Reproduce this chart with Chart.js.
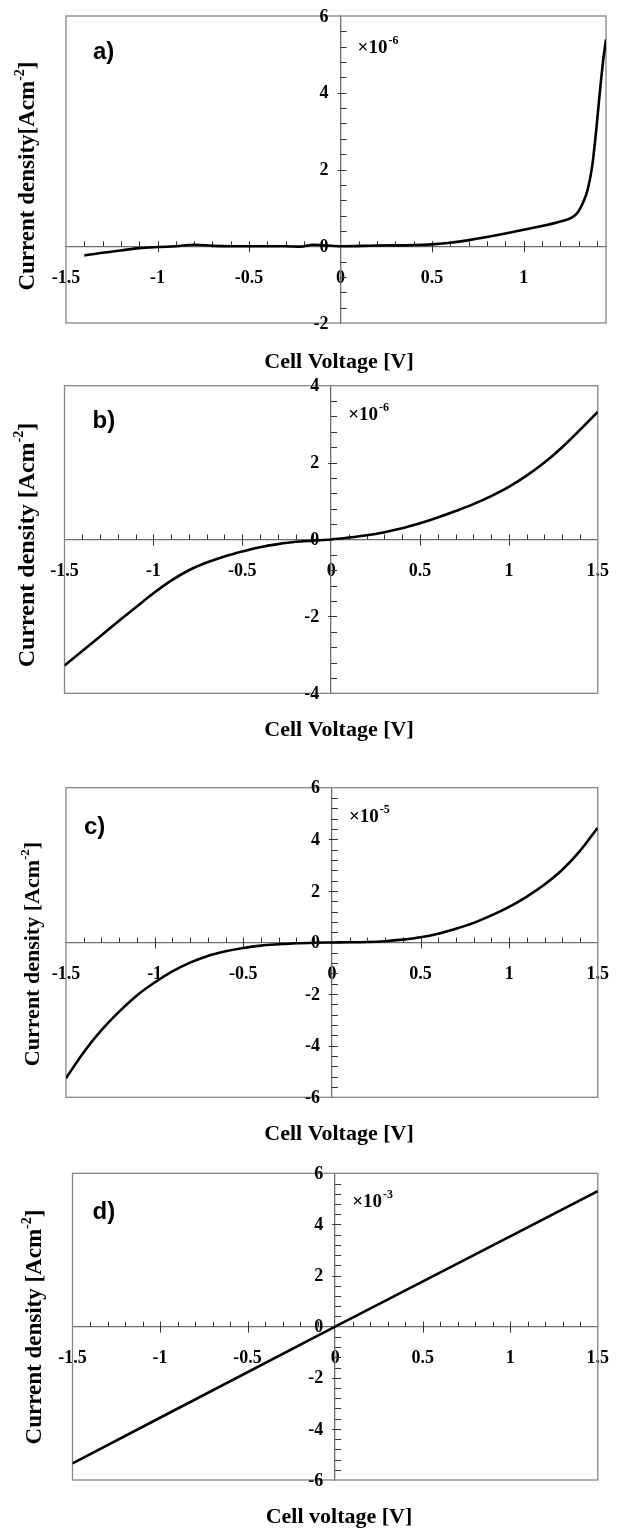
<!DOCTYPE html>
<html lang="en">
<head>
<meta charset="UTF-8">
<title>Current density vs cell voltage</title>
<script src="https://cdn.jsdelivr.net/npm/chart.js"></script>
<style>
  body { margin: 0; background: #fff; }
  .panel { position: absolute; left: 0; width: 630px; }
</style>
</head>
<body>
<div class="panel" style="top:0px"><canvas id="chartA" width="630" height="375"></canvas></div>
<div class="panel" style="top:375px"><canvas id="chartB" width="630" height="385"></canvas></div>
<div class="panel" style="top:760px"><canvas id="chartC" width="630" height="390"></canvas></div>
<div class="panel" style="top:1150px"><canvas id="chartD" width="630" height="379"></canvas></div>
<script>
// a) current density in units of 1e-6 A/cm2
const voltA = [-1.40, -1.30, -1.20, -1.10, -1.00, -0.90, -0.80, -0.70, -0.60, -0.45, -0.30, -0.22, -0.15, 0.00, 0.20, 0.40, 0.50, 0.60, 0.70, 0.80, 0.90, 1.00, 1.10, 1.19, 1.29, 1.33, 1.35, 1.375, 1.395, 1.415, 1.435, 1.45];
const currA = [-0.24, -0.17, -0.11, -0.05, -0.02, 0.00, 0.04, 0.01, 0.00, 0.00, 0.00, -0.01, 0.04, 0.00, 0.02, 0.03, 0.05, 0.09, 0.16, 0.24, 0.33, 0.43, 0.53, 0.63, 0.85, 1.20, 1.48, 2.10, 2.95, 3.95, 4.86, 5.39];

// b) units of 1e-6 A/cm2
const voltB = [-1.5, -1.4, -1.3, -1.2, -1.1, -1.0, -0.9, -0.8, -0.7, -0.6, -0.5, -0.4, -0.3, -0.2, -0.1, 0.0, 0.1, 0.2, 0.3, 0.4, 0.5, 0.6, 0.7, 0.8, 0.9, 1.0, 1.1, 1.2, 1.3, 1.4, 1.5];
const currB = [-3.28, -2.90, -2.52, -2.14, -1.77, -1.40, -1.07, -0.80, -0.60, -0.44, -0.31, -0.20, -0.12, -0.06, -0.03, 0.00, 0.05, 0.11, 0.19, 0.29, 0.42, 0.57, 0.74, 0.92, 1.13, 1.37, 1.66, 2.00, 2.40, 2.85, 3.32];

// c) units of 1e-5 A/cm2
const voltC = [-1.5, -1.4, -1.3, -1.2, -1.1, -1.0, -0.9, -0.8, -0.7, -0.6, -0.5, -0.4, -0.3, -0.2, -0.1, 0.0, 0.1, 0.2, 0.3, 0.4, 0.5, 0.6, 0.7, 0.8, 0.9, 1.0, 1.1, 1.2, 1.3, 1.4, 1.5];
const currC = [-5.26, -4.25, -3.40, -2.68, -2.05, -1.55, -1.12, -0.78, -0.52, -0.34, -0.21, -0.12, -0.07, -0.03, -0.01, 0.00, 0.01, 0.02, 0.05, 0.11, 0.20, 0.34, 0.53, 0.76, 1.05, 1.38, 1.78, 2.25, 2.82, 3.55, 4.45];

// d) units of 1e-3 A/cm2, ohmic
const voltD = [-1.5, 0.0, 1.5];
const currD = [-5.35, 0.00, 5.30];

// axis ranges
const xRangeA = [-1.5, 1.45];
const yRangeA = [-2, 6];
const yRangeB = [-4, 4];
const yRangeC = [-6, 6];
const yRangeD = [-6, 6];
const xRangeFull = [-1.5, 1.5];

const serif = '"Liberation Serif", "Times New Roman", serif';
const sans = '"Liberation Sans", Arial, sans-serif';

// frame, minor ticks, y tick labels and the panel texts
const decor = {
  id: 'decor',
  beforeDatasetsDraw(chart, args, o) {
    const {ctx, chartArea: ca, scales: {x, y}} = chart;
    const x0 = x.getPixelForValue(0);
    const y0 = y.getPixelForValue(0);
    ctx.save();
    ctx.strokeStyle = '#858585';
    ctx.lineWidth = 1.3;
    ctx.strokeRect(ca.left, ca.top, ca.right - ca.left, ca.bottom - ca.top);

    ctx.strokeStyle = '#333';
    ctx.lineWidth = 1;
    ctx.beginPath();
    for (let i = -15; i <= 15; i++) {
      const v = i / 10;
      if (i === 0 || v <= x.min || v >= x.max) continue;
      const px = Math.round(x.getPixelForValue(v)) + 0.5;
      const major = i % 5 === 0;
      ctx.moveTo(px, y0 - 5);
      ctx.lineTo(px, major ? y0 + 6 : y0);
    }
    for (let j = Math.ceil(y.min / 0.4); j <= Math.floor(y.max / 0.4); j++) {
      const v = j * 0.4;
      if (j === 0 || v <= y.min || v >= y.max) continue;
      const py = Math.round(y.getPixelForValue(v)) + 0.5;
      const major = j % 5 === 0;
      ctx.moveTo(major ? x0 - 3 : x0, py);
      ctx.lineTo(x0 + 6, py);
    }
    ctx.stroke();

    // y tick labels sit left of the centred axis
    ctx.fillStyle = '#000';
    ctx.font = 'bold 18px ' + serif;
    ctx.textAlign = 'right';
    ctx.textBaseline = 'middle';
    y.ticks.forEach(t => ctx.fillText(String(t.value), x0 - 12, y.getPixelForValue(t.value) + 1));

    // panel letter
    ctx.font = 'bold 24px ' + sans;
    ctx.textBaseline = 'alphabetic';
    ctx.textAlign = 'left';
    ctx.fillText(o.letter, ca.left + o.letterDx, ca.top + o.letterDy);

    // scale factor
    ctx.font = 'bold 19px ' + serif;
    const bx = x0 + 17, by = ca.top + o.expDy;
    ctx.fillText('×10', bx, by);
    const w = ctx.measureText('×10').width;
    ctx.font = 'bold 12px ' + serif;
    ctx.fillText(o.exponent, bx + w + 1, by - 9);

    // x title
    ctx.font = 'bold 22px ' + serif;
    ctx.textAlign = 'center';
    ctx.textBaseline = 'middle';
    ctx.fillText(o.xTitle, 339, o.xTitleY);

    // y title with superscript
    ctx.translate(o.yTitleX, o.yTitleY);
    ctx.rotate(-Math.PI / 2);
    ctx.textAlign = 'left';
    const mainFont = 'bold ' + o.yTitleSize + 'px ' + serif;
    const supFont = 'bold ' + Math.round(o.yTitleSize * 0.6) + 'px ' + serif;
    ctx.font = mainFont;
    const w1 = ctx.measureText(o.yTitle).width;
    const w3 = ctx.measureText(']').width;
    ctx.font = supFont;
    const w2 = ctx.measureText('-2').width;
    const tx = -(w1 + w2 + w3) / 2;
    ctx.font = mainFont;
    ctx.fillText(o.yTitle, tx, 0);
    ctx.font = supFont;
    ctx.fillText('-2', tx + w1, -o.yTitleSize * 0.35);
    ctx.font = mainFont;
    ctx.fillText(']', tx + w1 + w2, 0);
    ctx.restore();
  }
};

function makePanel(id, volts, curr, xRange, yRange, pad, deco) {
  const points = volts.map((v, i) => ({x: v, y: curr[i]}));
  return new Chart(document.getElementById(id), {
    type: 'scatter',
    data: {
      datasets: [{
        data: points,
        showLine: true,
        borderColor: '#000',
        borderWidth: 2.6,
        pointRadius: 0,
        cubicInterpolationMode: 'monotone'
      }]
    },
    options: {
      responsive: false,
      animation: false,
      events: [],
      layout: {padding: pad},
      plugins: {legend: {display: false}, tooltip: {enabled: false}, decor: deco},
      scales: {
        x: {
          type: 'linear',
          min: xRange[0], max: xRange[1],
          position: {y: 0},
          grid: {display: false, drawTicks: false},
          border: {display: true, color: '#6e6e6e', width: 1.3},
          ticks: {stepSize: 0.5, includeBounds: false, color: '#000', padding: 21, maxRotation: 0,
            font: {family: serif, weight: 'bold', size: 18},
            callback: v => String(Math.round(v * 10) / 10)}
        },
        y: {
          type: 'linear',
          min: yRange[0], max: yRange[1],
          position: {x: 0},
          grid: {display: false, drawTicks: false},
          border: {display: true, color: '#6e6e6e', width: 1.3},
          // labels are painted by the decor plugin
          ticks: {stepSize: 2, display: false}
        }
      }
    },
    plugins: [decor]
  });
}

makePanel('chartA', voltA, currA, xRangeA, yRangeA,
  {left: 66, right: 24, top: 16, bottom: 52},
  {letter: 'a)', letterDx: 27, letterDy: 43, expDy: 37, exponent: '-6', xTitle: 'Cell Voltage [V]', xTitleY: 362,
   yTitle: 'Current density[Acm', yTitleX: 28, yTitleY: 176, yTitleSize: 23});

makePanel('chartB', voltB, currB, xRangeFull, yRangeB,
  {left: 64.5, right: 19, top: 10.7, bottom: 66.7},
  {letter: 'b)', letterDx: 28, letterDy: 42, expDy: 34, exponent: '-6', xTitle: 'Cell Voltage [V]', xTitleY: 355,
   yTitle: 'Current density [Acm', yTitleX: 28, yTitleY: 170, yTitleSize: 24});

makePanel('chartC', voltC, currC, xRangeFull, yRangeC,
  {left: 66, right: 19, top: 27.7, bottom: 52.7},
  {letter: 'c)', letterDx: 18, letterDy: 46, expDy: 34, exponent: '-5', xTitle: 'Cell Voltage [V]', xTitleY: 374,
   yTitle: 'Current density [Acm', yTitleX: 33, yTitleY: 194, yTitleSize: 22});

makePanel('chartD', voltD, currD, xRangeFull, yRangeD,
  {left: 72.5, right: 12, top: 23.3, bottom: 49},
  {letter: 'd)', letterDx: 20, letterDy: 46, expDy: 34, exponent: '-3', xTitle: 'Cell voltage [V]', xTitleY: 367,
   yTitle: 'Current density [Acm', yTitleX: 35, yTitleY: 177, yTitleSize: 23});
</script>
</body>
</html>
